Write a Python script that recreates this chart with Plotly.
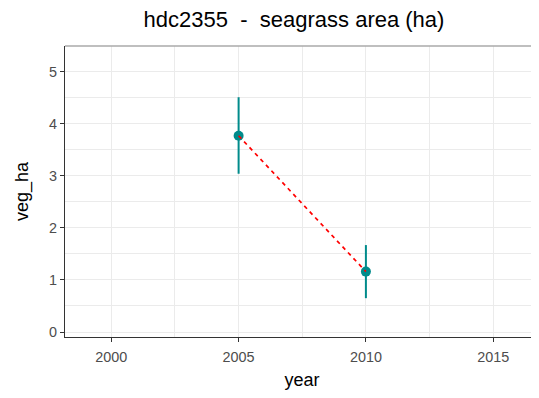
import plotly.graph_objects as go

years = [2005, 2010]
veg_ha = [3.77, 1.16]
err_upper = [0.74, 0.51]
err_lower = [0.73, 0.51]

x_ticks = [2000, 2005, 2010, 2015]
y_ticks = [0, 1, 2, 3, 4, 5]

teal = "#008B8B"
grid = "#EBEBEB"
FONT = "Liberation Sans, Arial"

fig = go.Figure()
fig.add_trace(go.Scatter(
    x=years, y=veg_ha, mode="markers",
    marker=dict(color=teal, size=10),
    error_y=dict(type="data", symmetric=False, array=err_upper, arrayminus=err_lower,
                 color=teal, thickness=2, width=0),
    showlegend=False, hoverinfo="x+y"))
fig.add_trace(go.Scatter(
    x=years, y=veg_ha, mode="lines",
    line=dict(color="#FF0000", width=1.7, dash="4px,4px"),
    showlegend=False))

axis_common = dict(
    showline=True, linecolor="#333333", linewidth=1.1,
    ticks="outside", ticklen=4, tickcolor="#333333", tickwidth=1.1,
    tickfont=dict(family=FONT, size=14.4, color="#4D4D4D"),
    showgrid=True, gridcolor=grid, gridwidth=1.1, zeroline=False,
)

fig.update_xaxes(
    range=[1998.18, 2016.8], tickvals=x_ticks, ticktext=[str(v) for v in x_ticks],
    minor=dict(dtick=2.5, tick0=2000, showgrid=True, gridcolor=grid, gridwidth=0.55, ticks=""),
    ticklabelstandoff=3,
    title=dict(text="year", font=dict(family=FONT, size=18, color="#000000"), standoff=13),
    **axis_common)
fig.update_yaxes(
    range=[-0.096, 5.494], tickvals=y_ticks, ticktext=[str(v) for v in y_ticks],
    minor=dict(dtick=0.5, tick0=0, showgrid=True, gridcolor=grid, gridwidth=0.55, ticks=""),
    title=dict(text="veg_ha", font=dict(family=FONT, size=18, color="#000000"), standoff=15),
    **axis_common)

fig.add_shape(type="line", xref="paper", yref="paper", x0=0, x1=1, y0=1, y1=1,
              line=dict(color="#AAAAAA", width=1.5), layer="above")

H = 382
fig.update_layout(
    width=531, height=H,
    margin=dict(l=57, r=0, t=38, b=H - 329),
    paper_bgcolor="white", plot_bgcolor="white",
    title=dict(text="hdc2355\u00a0\u00a0-\u00a0\u00a0seagrass area (ha)",
               font=dict(family=FONT, size=22, color="#000000"),
               x=286/531, xanchor="center", xref="container",
               y=1-11/H, yanchor="middle", yref="container"),
    font=dict(family=FONT),
)

fig.write_html("out.html")
